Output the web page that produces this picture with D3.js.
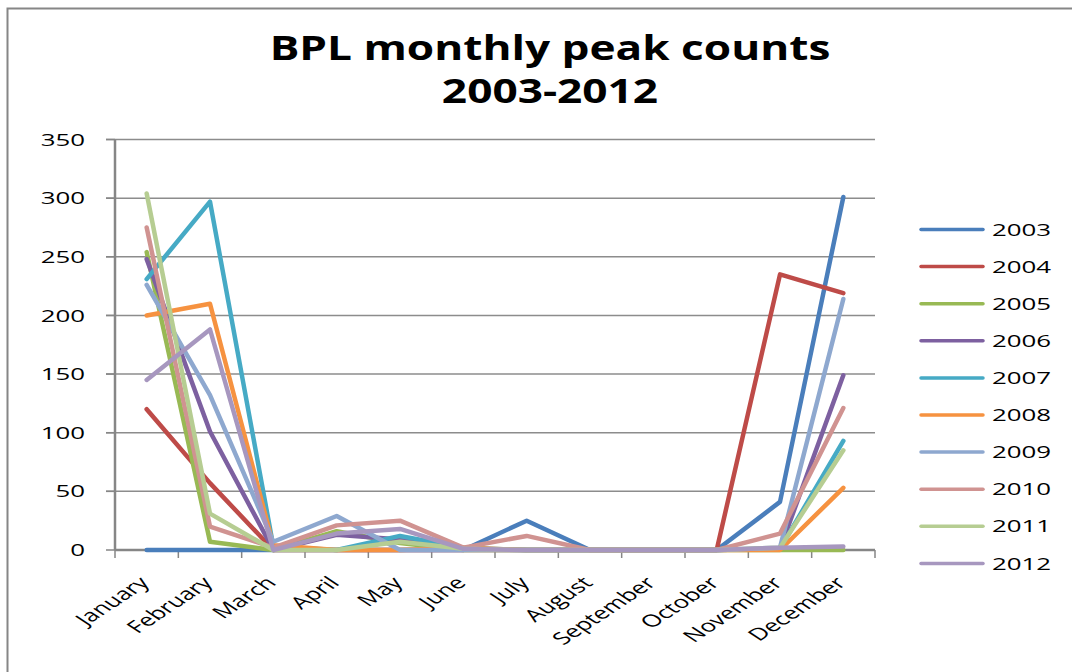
<!DOCTYPE html>
<html>
<head>
<meta charset="utf-8">
<script src="https://cdn.jsdelivr.net/npm/d3@7"></script>
<style>
  body { margin: 0; background: #fff; }
  text { font-family: "Open Sans", sans-serif; fill: #000; }
</style>
</head>
<body>
<svg width="1072" height="672"></svg>
<script>
const months = ['January', 'February', 'March', 'April', 'May', 'June', 'July',
  'August', 'September', 'October', 'November', 'December'];
const years = ['2003', '2004', '2005', '2006', '2007', '2008', '2009', '2010', '2011', '2012'];
const yTicks = [0, 50, 100, 150, 200, 250, 300, 350];

const v2003 = [0, 0, 0, 0, 0, 0, 25, 0, 0, 0, 41, 301];
const v2004 = [120, 57, 0, 0, 0, 0, 0, 0, 0, 0, 235, 219];
const v2005 = [254, 7, 0, 16, 6, 0, 0, 0, 0, 0, 0, 0];
const v2006 = [248, 101, 0, 13, 9, 1, 0, 0, 0, 0, 1, 149];
const v2007 = [231, 297, 3, 0, 12, 2, 0, 0, 0, 0, 1, 93];
const v2008 = [200, 210, 4, 0, 0, 2, 0, 0, 0, 0, 0, 53];
const v2009 = [226, 132, 7, 29, 0, 0, 0, 0, 0, 0, 2, 214];
const v2010 = [275, 20, 2, 21, 25, 2, 12, 0, 0, 0, 14, 121];
const v2011 = [304, 31, 0, 0, 7, 1, 0, 0, 0, 0, 2, 85];
const v2012 = [145, 188, 0, 14, 18, 1, 0, 0, 0, 0, 2, 3];

const colors = ['#4a7ebb', '#be4b48', '#98b954', '#7d60a0', '#46aac5',
  '#f69240', '#8ea8cf', '#d09391', '#b6cd92', '#a797bf'];

const series = [v2003, v2004, v2005, v2006, v2007, v2008, v2009, v2010, v2011, v2012]
  .map((vals, i) => ({ year: years[i], color: colors[i], values: vals }));

const svg = d3.select('svg');
const SX = 1.52; // text in the original is stretched horizontally

// outer chart frame
svg.append('rect')
  .attr('x', 7.5).attr('y', 8.5)
  .attr('width', 1090).attr('height', 690)
  .attr('fill', 'none')
  .attr('stroke', '#868686')
  .attr('stroke-width', 2);

const xScale = d3.scaleBand().domain(months).range([115, 875]);
const yScale = d3.scaleLinear().domain([0, 350]).range([550, 139.5]);
const xc = m => xScale(m) + xScale.bandwidth() / 2;

// gridlines
svg.append('g').selectAll('line')
  .data(yTicks.filter(d => d > 0))
  .join('line')
    .attr('x1', 106).attr('x2', 875)
    .attr('y1', d => yScale(d)).attr('y2', d => yScale(d))
    .attr('stroke', '#8c8c8c')
    .attr('stroke-width', 1.5);

// y axis
const yAxisG = svg.append('g');
yAxisG.append('line')
  .attr('x1', 115).attr('x2', 115)
  .attr('y1', yScale(350)).attr('y2', yScale(0))
  .attr('stroke', '#868686').attr('stroke-width', 2.5);
yAxisG.selectAll('.tick')
  .data(yTicks)
  .join('line')
    .attr('x1', 106).attr('x2', 115)
    .attr('y1', d => yScale(d)).attr('y2', d => yScale(d))
    .attr('stroke', '#868686').attr('stroke-width', 1.5);
yAxisG.selectAll('text')
  .data(yTicks)
  .join('text')
    .attr('transform', d => `translate(85,${yScale(d)}) scale(${SX},1)`)
    .attr('text-anchor', 'end')
    .attr('dy', '0.36em')
    .style('font-size', '17px')
    .text(d => d);

// x axis
const xAxisG = svg.append('g');
xAxisG.append('line')
  .attr('x1', 115).attr('x2', 875)
  .attr('y1', 550).attr('y2', 550)
  .attr('stroke', '#868686').attr('stroke-width', 2.5);
xAxisG.selectAll('.tick')
  .data(months.map(m => xScale(m)).concat([875]))
  .join('line')
    .attr('x1', d => d).attr('x2', d => d)
    .attr('y1', 550).attr('y2', 558)
    .attr('stroke', '#868686').attr('stroke-width', 1.5);
xAxisG.selectAll('text')
  .data(months)
  .join('text')
    .attr('transform', d => `translate(${xc(d) + 4},584) scale(${SX},1) rotate(-45)`)
    .attr('text-anchor', 'end')
    .style('font-size', '17px')
    .text(d => d);

// lines
const lineGen = d3.line()
  .x((d, i) => xc(months[i]))
  .y(d => yScale(d));

svg.append('g').selectAll('path')
  .data(series)
  .join('path')
    .attr('d', d => lineGen(d.values))
    .attr('fill', 'none')
    .attr('stroke', d => d.color)
    .attr('stroke-width', 4.5)
    .attr('stroke-linejoin', 'round')
    .attr('stroke-linecap', 'round');

// legend
const legend = svg.append('g').selectAll('g')
  .data(series)
  .join('g')
    .attr('transform', (d, i) => `translate(0,${229.5 + i * 37.1})`);
legend.append('line')
  .attr('x1', 921).attr('x2', 983)
  .attr('stroke', d => d.color)
  .attr('stroke-width', 3.5)
  .attr('stroke-linecap', 'round');
legend.append('text')
  .attr('transform', `translate(992,0) scale(${SX},1)`)
  .attr('dy', '0.36em')
  .style('font-size', '17px')
  .text(d => d.year);

// title
const titleLines = ['BPL monthly peak counts', '2003-2012'];
const title = svg.append('g');
const tl = title.selectAll('text')
  .data(titleLines)
  .join('text')
    .attr('text-anchor', 'middle')
    .style('font-size', '34px')
    .style('font-weight', 'bold')
    .text(d => d);
const w0 = tl.node().getComputedTextLength();
const tsx = 561 / w0;
tl.attr('transform', (d, i) => `translate(550,${i === 0 ? 60 : 103}) scale(${tsx},1)`);
</script>
</body>
</html>
